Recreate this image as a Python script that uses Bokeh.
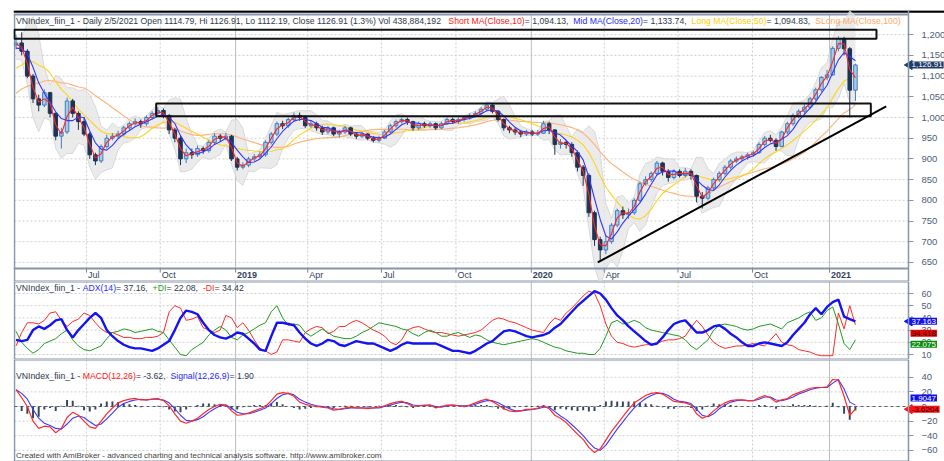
import numpy as np
import pandas as pd
from bokeh.plotting import figure
from bokeh.models import Range1d, FixedTicker, NumeralTickFormatter, Label
from bokeh.layouts import column
from bokeh.embed import file_html
from bokeh.resources import INLINE
from bokeh.core.properties import value

# ---------------- data (weekly) ----------------
weeks = pd.date_range("2018-04-06", "2021-02-05", freq="W-FRI")  # 149 weeks

# closes before the visible window (only used to warm up the moving averages)
close_before = [945, 955, 975, 950, 960, 965, 984, 1005, 1030, 1060,
                1100, 1080, 1010, 1060, 1110, 1120, 1140, 1165, 1150, 1175]

close = [1180, 1160, 1100, 1045, 1030, 1060, 1010, 955, 965, 1040,
         1010, 990, 960, 910, 895, 930, 950, 955, 960, 975,
         985, 990, 985, 1000, 1010, 1017, 1005, 970, 950, 900,
         915, 910, 925, 920, 940, 955, 950, 955, 900, 880,
         885, 900, 905, 910, 940, 960, 985, 980, 995, 1005,
         1000, 980, 985, 975, 965, 975, 960, 965, 975, 960,
         955, 960, 950, 945, 950, 965, 980, 990, 995, 990,
         975, 985, 980, 985, 975, 985, 995, 990, 995, 1000,
         1005, 1010, 1020, 1030, 1015, 995, 975, 970, 965, 960,
         965, 960, 962, 985, 970, 935, 940, 935, 915, 880,
         860, 770, 705, 680, 700, 740, 775, 765, 770, 800,
         840, 850, 865, 890, 870, 855, 870, 860, 870, 860,
         810, 805, 830, 850, 865, 880, 895, 900, 905, 910,
         915, 935, 950, 945, 930, 965, 985, 1005, 1015, 1025,
         1045, 1067, 1097, 1103, 1167, 1190, 1166, 1066, 1126.91]

high = [1200, 1206, 1165, 1105, 1055, 1068, 1062, 1012, 975, 1048,
        1045, 1015, 1000, 965, 915, 935, 958, 962, 968, 980,
        990, 998, 995, 1005, 1015, 1025, 1022, 1008, 975, 955,
        925, 925, 932, 930, 945, 962, 960, 963, 958, 905,
        892, 905, 912, 918, 945, 965, 990, 992, 1000, 1012,
        1012, 1005, 992, 990, 980, 980, 978, 970, 980, 978,
        965, 965, 962, 955, 956, 970, 985, 995, 1000, 1000,
        992, 990, 990, 990, 988, 990, 1000, 1000, 1000, 1005,
        1010, 1015, 1025, 1035, 1032, 1018, 998, 980, 975, 970,
        970, 970, 970, 992, 990, 972, 948, 945, 940, 920,
        885, 865, 775, 712, 715, 745, 780, 785, 780, 805,
        845, 858, 870, 895, 893, 875, 875, 875, 878, 875,
        862, 820, 835, 855, 870, 885, 900, 906, 910, 915,
        920, 940, 955, 958, 950, 968, 990, 1010, 1020, 1032,
        1050, 1072, 1100, 1115, 1172, 1196, 1195, 1170, 1130]

low = [1165, 1150, 1095, 1035, 1015, 1025, 1000, 945, 925, 960,
       1000, 970, 955, 900, 885, 890, 925, 945, 948, 955,
       970, 980, 975, 980, 995, 1005, 998, 960, 940, 885,
       890, 900, 905, 912, 915, 935, 942, 945, 895, 872,
       875, 880, 895, 900, 905, 935, 955, 972, 975, 990,
       992, 975, 975, 968, 958, 960, 955, 952, 960, 955,
       948, 950, 945, 940, 940, 948, 962, 975, 985, 982,
       968, 970, 975, 975, 970, 972, 982, 985, 985, 990,
       995, 1000, 1005, 1015, 1010, 990, 968, 962, 958, 952,
       955, 955, 955, 960, 960, 910, 925, 925, 905, 870,
       835, 760, 690, 652, 670, 695, 735, 755, 755, 765,
       795, 835, 845, 860, 860, 845, 850, 855, 855, 850,
       795, 780, 800, 825, 845, 860, 875, 890, 895, 898,
       905, 912, 930, 940, 920, 928, 960, 980, 998, 1008,
       1020, 1040, 1062, 1090, 1100, 1160, 1150, 1000, 1040]

adx = [22, 21, 22, 30, 33, 31, 34, 38, 39, 30,
       24, 30, 35, 40, 44, 40, 30, 25, 21, 18,
       16, 15, 15, 14, 13, 15, 18, 21, 30, 40,
       46, 45, 43, 36, 30, 26, 24, 23, 25, 28,
       27, 23, 19, 14, 13, 25, 36, 36, 35, 34,
       28, 23, 19, 17, 19, 22, 21, 18, 17, 19,
       21, 20, 19, 19, 17, 15, 13, 15, 18, 20,
       19, 19, 19, 19, 19, 17, 15, 13, 13, 12,
       11, 13, 16, 19, 21, 25, 29, 30, 29, 27,
       25, 24, 25, 26, 28, 32, 35, 40, 45, 50,
       54, 58, 62, 60, 55, 48, 42, 38, 33, 29,
       25, 21, 18, 19, 24, 30, 35, 37, 38, 33,
       28, 28, 30, 33, 34, 31, 27, 24, 20, 17,
       17, 19, 20, 19, 18, 17, 20, 26, 31, 36,
       43, 48, 43, 49, 53, 55, 41, 39, 37.16]

plus_di = [29, 20, 15, 11, 14, 19, 21, 23, 27, 30,
           22, 17, 14, 13, 15, 17, 23, 28, 29, 31,
           30, 28, 29, 30, 31, 29, 28, 22, 16, 10,
           9, 14, 17, 20, 26, 30, 33, 30, 24, 22,
           26, 28, 31, 34, 36, 45, 50, 40, 34, 35,
           34, 28, 25, 28, 31, 28, 25, 24, 23, 23,
           25, 28, 30, 33, 36, 35, 34, 33, 31, 30,
           27, 25, 28, 30, 28, 25, 25, 27, 28, 26,
           24, 26, 25, 22, 20, 19, 18, 19, 20, 21,
           22, 23, 22, 20, 18, 16, 15, 13, 12, 11,
           11, 10, 10, 15, 25, 36, 38, 35, 36, 38,
           36, 32, 30, 29, 28, 27, 26, 25, 22, 17,
           14, 18, 22, 30, 34, 35, 34, 33, 31, 30,
           31, 33, 34, 35, 33, 31, 36, 38, 40, 43,
           45, 38, 40, 46, 49, 35, 19, 14, 22.08]

minus_di = [17, 28, 36, 36, 35, 38, 44, 45, 38, 33,
            37, 39, 44, 42, 36, 31, 28, 28, 26, 24,
            24, 23, 23, 24, 24, 25, 28, 45, 50, 48,
            38, 39, 41, 32, 30, 28, 30, 42, 40, 32,
            36, 30, 22, 15, 13, 10, 12, 22, 22, 21,
            20, 28, 31, 33, 32, 27, 29, 33, 33, 36,
            38, 36, 33, 30, 28, 25, 20, 18, 22, 30,
            32, 33, 31, 29, 28, 28, 27, 26, 25, 26,
            27, 28, 30, 34, 38, 40, 39, 37, 36, 34,
            32, 30, 29, 28, 35, 40, 38, 44, 48, 53,
            58, 62, 60, 50, 35, 25, 20, 19, 17, 16,
            17, 18, 18, 19, 21, 22, 22, 23, 25, 32,
            38, 33, 26, 20, 17, 15, 16, 17, 17, 18,
            19, 18, 17, 22, 27, 20, 18, 17, 14, 13,
            12, 10, 9, 9, 9, 44, 31, 50, 34.42]

macd = [23, 12, 0, -20, -30, -27, -28, -36, -30, -15,
        -8, -12, -20, -28, -30, -20, -10, -2, 5, 8,
        10, 11, 9, 9, 10, 11, 8, 1, -10, -20,
        -23, -20, -16, -10, -4, 0, 3, 2, -6, -12,
        -11, -9, -6, -3, 0, 8, 17, 19, 18, 14,
        6, 3, 1, 0, -1, -2, -5, -4, -2, -1,
        -2, -2, -3, -2, -1, 1, 4, 6, 7, 4,
        0, 1, 2, 2, -2, 0, 2, 2, 1, 0,
        2, 5, 8, 10, 7, 2, -3, -6, -7, -6,
        -4, -4, -2, 1, -3, -12, -16, -22, -30, -38,
        -45, -56, -63, -58, -46, -34, -24, -14, -4, 5,
        10, 15, 18, 19, 17, 12, 7, 6, 5, 2,
        -10, -16, -13, -6, 0, 5, 8, 9, 9, 8,
        8, 12, 15, 12, 6, 9, 11, 16, 19, 22,
        25, 26, 26, 27, 37, 36, 14, -12, -3.62]

signal = [23, 18, 10, -4, -16, -23, -26, -30, -31, -24,
          -16, -13, -15, -21, -26, -24, -17, -9, -1, 4,
          7, 9, 10, 9, 10, 10, 9, 5, -3, -12,
          -19, -20, -18, -14, -8, -3, 1, 2, -2, -8,
          -10, -10, -8, -5, -2, 4, 11, 16, 18, 16,
          10, 6, 3, 1, 0, -1, -3, -4, -3, -2,
          -2, -2, -2, -2, -2, 0, 2, 4, 6, 5,
          2, 1, 1, 2, 0, -1, 1, 2, 1, 1,
          1, 3, 6, 8, 8, 5, 1, -3, -6, -6,
          -5, -4, -3, -1, -1, -7, -13, -18, -25, -32,
          -40, -49, -57, -60, -53, -42, -31, -21, -11, -2,
          5, 11, 15, 18, 18, 15, 10, 7, 6, 4,
          -4, -12, -14, -10, -3, 2, 6, 8, 9, 8,
          8, 10, 13, 13, 9, 8, 10, 13, 17, 20,
          23, 25, 26, 26, 32, 37, 24, 6, 1.90]

quarter_dates = ["2018-07-02", "2018-10-01", "2019-01-02", "2019-04-01", "2019-07-01", "2019-10-01",
                 "2020-01-02", "2020-04-01", "2020-07-01", "2020-10-01", "2021-01-04"]
quarter_labels = ["Jul", "Oct", "2019", "Apr", "Jul", "Oct", "2020", "Apr", "Jul", "Oct", "2021"]
price_ticks = [650, 700, 750, 800, 850, 900, 950, 1000, 1050, 1100, 1150, 1200]
adx_ticks = [10, 20, 30, 40, 50, 60]
macd_ticks = [-60, -40, -20, 0, 20, 40]

# drawn zones and trend line
zone_start = ["2018-04-04", "2018-09-26"]
zone_end = ["2021-03-03", "2021-02-24"]
zone_bottom = [1190, 1003]
zone_top = [1212, 1034]
trend_dates = ["2020-03-24", "2021-03-15"]
trend_price = [650, 1027]

# ---------------- derived series ----------------
n0 = len(close_before)
allc = pd.Series(close_before + close, dtype=float)
def ma(n):
    return allc.rolling(n).mean().to_numpy()[n0:]
ma_short, ma_mid, ma_long, ma_slong = ma(2), ma(4), ma(10), ma(20)
bb_mid = allc.rolling(4).mean()
bb_sd = allc.rolling(4).std()
bb_up = (bb_mid + 2 * bb_sd).to_numpy()[n0:]
bb_lo = (bb_mid - 2 * bb_sd).to_numpy()[n0:]

cl = np.array(close, dtype=float)
op = np.array([close_before[-1]] + close[:-1], dtype=float)
inc = cl >= op
hist = np.array(macd) - np.array(signal)

# ---------------- layout helpers (pixel <-> date) ----------------
DAY = 86400000.0
def ms(d):
    return pd.Timestamp(d).value / 1e6
A_MS, B_MS = ms("2018-07-02"), ms("2021-01-04")
A_PX, B_PX = 86.0, 829.0
PPD = (B_PX - A_PX) / ((B_MS - A_MS) / DAY)      # pixels per day
def px2x(px):
    return A_MS + (px - A_PX) / PPD * DAY
FRAME_L, AXIS_PX, FRAME_R = 13, 908, 944
x_start, x_end = px2x(FRAME_L), px2x(FRAME_R)
x_border = px2x(14)
x_axis = px2x(AXIS_PX)
xr = Range1d(start=x_start, end=x_end)

BORDER = "#8796ad"
GRID = "#cfcfcf"
TXT = "#2f3b4c"
FONT = "Liberation Sans"

AW = {' ': 278, '!': 278, '%': 889, '(': 333, ')': 333, '+': 584, ',': 278, '-': 333, '.': 278,
      '/': 278, '=': 584, '_': 556, ':': 278,
      'A': 667, 'B': 667, 'C': 722, 'D': 722, 'E': 667, 'F': 611, 'G': 778, 'H': 722, 'I': 278,
      'J': 500, 'K': 667, 'L': 556, 'M': 833, 'N': 722, 'O': 778, 'P': 667, 'Q': 778, 'R': 722,
      'S': 667, 'T': 611, 'U': 722, 'V': 667, 'W': 944, 'X': 667, 'Y': 667, 'Z': 611,
      'a': 556, 'b': 556, 'c': 500, 'd': 556, 'e': 556, 'f': 278, 'g': 556, 'h': 556, 'i': 222,
      'j': 222, 'k': 500, 'l': 222, 'm': 833, 'n': 556, 'o': 556, 'p': 556, 'q': 556, 'r': 333,
      's': 500, 't': 278, 'u': 556, 'v': 500, 'w': 722, 'x': 500, 'y': 500, 'z': 500}

def tw(s, size):
    return sum(AW.get(c, 556) for c in s) * size / 1000.0

def add_title(p, segs, y, size=8.7, x0=2.5):
    offs, texts, cols = [], [], []
    cur = x0
    for t, c in segs:
        offs.append(cur)
        texts.append(t)
        cols.append(c)
        cur += tw(t, size)
    n = len(segs)
    p.text(x=[x_start] * n, y=[y] * n, text=texts, x_offset=offs, text_color=cols,
           text_font=value(FONT), text_font_size=value(f"{size}px"),
           text_baseline="middle", text_align="left")

def make_fig(h, y0, y1, top, ticks, gtop, gbot, fmt=None):
    p = figure(width=944, height=h, x_range=xr, y_range=Range1d(y0, y1),
               x_axis_type="datetime", x_axis_location=None, y_axis_location="right",
               toolbar_location=None, output_backend="svg",
               min_border_left=FRAME_L, min_border_right=0, min_border_top=top, min_border_bottom=0)
    p.outline_line_color = None
    p.background_fill_color = "white"
    p.border_fill_color = "white"
    ax = p.yaxis[0]
    ax.fixed_location = x_axis
    ax.ticker = FixedTicker(ticks=ticks)
    if fmt:
        ax.formatter = NumeralTickFormatter(format=fmt)
    ax.major_label_text_font = FONT
    ax.major_label_text_font_size = "9.5px"
    ax.major_label_text_color = "#4e5d78"
    ax.major_tick_out = 5
    ax.major_tick_in = 0
    ax.minor_tick_line_color = None
    ax.axis_line_color = BORDER
    ax.axis_line_width = 1.5
    ax.major_tick_line_color = BORDER
    ax.major_label_standoff = 8
    p.ygrid.visible = False
    p.xgrid.visible = False
    # horizontal dotted grid
    n = len(ticks)
    p.segment(x0=[x_border] * n, x1=[x_axis] * n, y0=ticks, y1=ticks,
              line_color=GRID, line_dash="2 2", line_width=1)
    # vertical grid lines
    qx = [ms(d) for d in quarter_dates]
    yr = [lab.isdigit() for lab in quarter_labels]
    xs_y = [x for x, f in zip(qx, yr) if f]
    xs_q = [x for x, f in zip(qx, yr) if not f]
    p.segment(x0=xs_q, x1=xs_q, y0=[gbot] * len(xs_q), y1=[gtop] * len(xs_q),
              line_color=GRID, line_dash="2 2", line_width=1)
    p.segment(x0=xs_y, x1=xs_y, y0=[gbot] * len(xs_y), y1=[gtop] * len(xs_y),
              line_color="#bdbdbd", line_width=1)
    # pane borders: left edge and top / bottom separators
    p.segment(x0=[x_border], x1=[x_border], y0=[y0], y1=[gtop], line_color=BORDER, line_width=1.5)
    p.segment(x0=[x_start, x_start], x1=[x_axis, x_axis], y0=[y0, gtop], y1=[y0, gtop],
              line_color=BORDER, line_width=2)
    return p

def tag(p, y, text, bg, fg, yoff=0, arrow=False):
    if arrow:
        p.scatter(x=[px2x(AXIS_PX + 1)], y=[y], marker="triangle", angle=np.pi / 2, size=9,
                  fill_color=bg, line_color=bg)
    p.add_layout(Label(x=x_axis, y=y, x_units="data", y_units="data", text=text,
                       x_offset=2, y_offset=yoff, text_font=FONT, text_font_size="8px",
                       text_color=fg, text_baseline="middle", text_align="left",
                       background_fill_color=bg, padding=1))

# ---------------- main price pane ----------------
PX = 0.414
Y_TOP = 1000 + (117 - 10) / PX      # frame top at y=10
Y_BOT = 1000 - (281 - 117) / PX     # frame bottom at y=281
PANE_TOP = 1000 + (117 - 14) / PX   # pane border at y=14
PANE_BOT = 1000 - (268 - 117) / PX  # pane bottom at y=268 (date band below)
p1 = make_fig(281, Y_BOT, Y_TOP, 10, price_ticks, PANE_TOP, PANE_BOT, "0,0")

# top window rule
p1.segment(x0=[x_start], x1=[x_end], y0=[1000 + (117 - 11) / PX], y1=[1000 + (117 - 11) / PX],
           line_color="black", line_width=2.5)

wx = weeks
p1.varea(x=wx, y1=bb_lo, y2=bb_up, fill_color="#e4e4e4", fill_alpha=0.75)
p1.line(x=wx, y=bb_up, line_color="#d2d2d2", line_width=0.8)
p1.line(x=wx, y=bb_lo, line_color="#d2d2d2", line_width=0.8)

p1.line(x=wx, y=ma_slong, line_color="#ffb27a", line_width=1.1)
p1.line(x=wx, y=ma_long, line_color="#ffd21f", line_width=1.1)

colors_body = np.where(inc, "#a9c8ea", "#1c3557")
colors_line = np.where(inc, "#3f7fc0", "#1c3557")
p1.segment(x0=wx, x1=wx, y0=low, y1=high, line_color=list(colors_line), line_width=1)
p1.vbar(x=wx, width=4.4 * DAY, top=np.maximum(op, cl), bottom=np.minimum(op, cl),
        fill_color=list(colors_body), line_color=list(colors_line), line_width=1)

p1.line(x=wx, y=ma_mid, line_color="#3535ff", line_width=1.1)
p1.line(x=wx, y=ma_short, line_color="#ff2525", line_width=1.1)

p1.quad(left=[ms(d) for d in zone_start], right=[ms(d) for d in zone_end],
        bottom=zone_bottom, top=zone_top, fill_color=None, line_color="#111111", line_width=2)
p1.line(x=[ms(d) for d in trend_dates], y=trend_price, line_color="black", line_width=2)

# date band
p1.segment(x0=[x_start], x1=[x_axis], y0=[PANE_BOT], y1=[PANE_BOT], line_color=BORDER, line_width=2)
qx = [ms(d) for d in quarter_dates]
p1.segment(x0=qx, x1=qx, y0=[PANE_BOT] * len(qx), y1=[PANE_BOT - 10] * len(qx),
           line_color="#7a869a", line_width=1)
p1.text(x=qx, y=[1000 - (274.5 - 117) / PX] * len(qx), text=quarter_labels, x_offset=1.5,
        text_font=value(FONT), text_font_size=value("9px"), text_color="#34425a",
        text_font_style=["bold" if l.isdigit() else "normal" for l in quarter_labels],
        text_baseline="middle", text_align="left")

add_title(p1, [
    ("VNIndex_fiin_1 - Daily 2/5/2021 Open 1114.79, Hi 1126.91, Lo 1112.19, Close 1126.91 (1.3%) Vol 438,884,192 ", TXT),
    ("Short MA(Close,10)", "#ff2020"), (" = 1,094.13, ", TXT),
    ("Mid MA(Close,20)", "#2a2aff"), (" = 1,133.74, ", TXT),
    ("Long MA(Close,50)", "#ffcc00"), (" = 1,094.83, ", TXT),
    ("SLong MA(Close,100)", "#ffa866")], 1000 + (117 - 20) / PX)

tag(p1, close[-1], "1,126.91", "#213c66", "white", arrow=True)

# ---------------- ADX pane ----------------
A_PPU = 1.22
p2_top = 60 + (293 - 281) / A_PPU
p2_bot = 60 - (359 - 293) / A_PPU
p2 = make_fig(78, p2_bot, p2_top, 0, adx_ticks, p2_top, p2_bot)
p2.yaxis[0].major_label_text_font_size = "9px"
p2.line(x=wx, y=minus_di, line_color="#ff2a2a", line_width=1)
p2.line(x=wx, y=plus_di, line_color="#1f9a1f", line_width=1)
p2.line(x=wx, y=adx, line_color="#1414f0", line_width=2.4)
add_title(p2, [("VNIndex_fiin_1 - ", TXT), ("ADX(14)", "#2a2aff"), (" = 37.16, ", TXT),
               ("+DI", "#1f9a1f"), (" = 22.08, ", TXT), ("-DI", "#ff2020"), (" = 34.42", TXT)],
        60 + (293 - 287) / A_PPU)
tag(p2, adx[-1], "37.163", "#1010ee", "white", arrow=True)
tag(p2, minus_di[-1], "34.418", "#ee0000", "#200000", yoff=-8.5)
tag(p2, plus_di[-1], "22.075", "#0a8a0a", "white", yoff=-4.5)

# ---------------- MACD pane ----------------
M_PPU = 0.73
p3_top = (406 - 359) / M_PPU
p3_bot = (406 - 461) / M_PPU
p3 = make_fig(102, p3_bot, p3_top, 0, macd_ticks, p3_top, p3_bot)
p3.segment(x0=[x_border], x1=[x_axis], y0=[0], y1=[0], line_color="#556070", line_dash="3 3", line_width=1)
p3.vbar(x=wx, width=2.4 * DAY, top=np.maximum(hist, 0), bottom=np.minimum(hist, 0),
        fill_color="#34445a", line_color=None)
p3.line(x=wx, y=signal, line_color="#3a3aff", line_width=1.1)
p3.line(x=wx, y=macd, line_color="#ff2a2a", line_width=1.2)
add_title(p3, [("VNIndex_fiin_1 - ", TXT), ("MACD(12,26)", "#ff2020"), (" = -3.62, ", TXT),
               ("Signal(12,26,9)", "#2a2aff"), (" = 1.90", TXT)], (406 - 375) / M_PPU)
p3.text(x=[x_start], y=[(406 - 455) / M_PPU],
        text=["Created with AmiBroker - advanced charting and technical analysis software. http://www.amibroker.com"],
        x_offset=2.5, text_font=value(FONT), text_font_size=value("8px"), text_color="#444444",
        text_baseline="middle", text_align="left")
tag(p3, signal[-1], "1.9047", "#1010ee", "white", yoff=7)
tag(p3, macd[-1], "-3.6204", "#ff1010", "#200000", arrow=True)

layout = column(p1, p2, p3, spacing=0)
open("out.html", "w").write(file_html(layout, INLINE))
